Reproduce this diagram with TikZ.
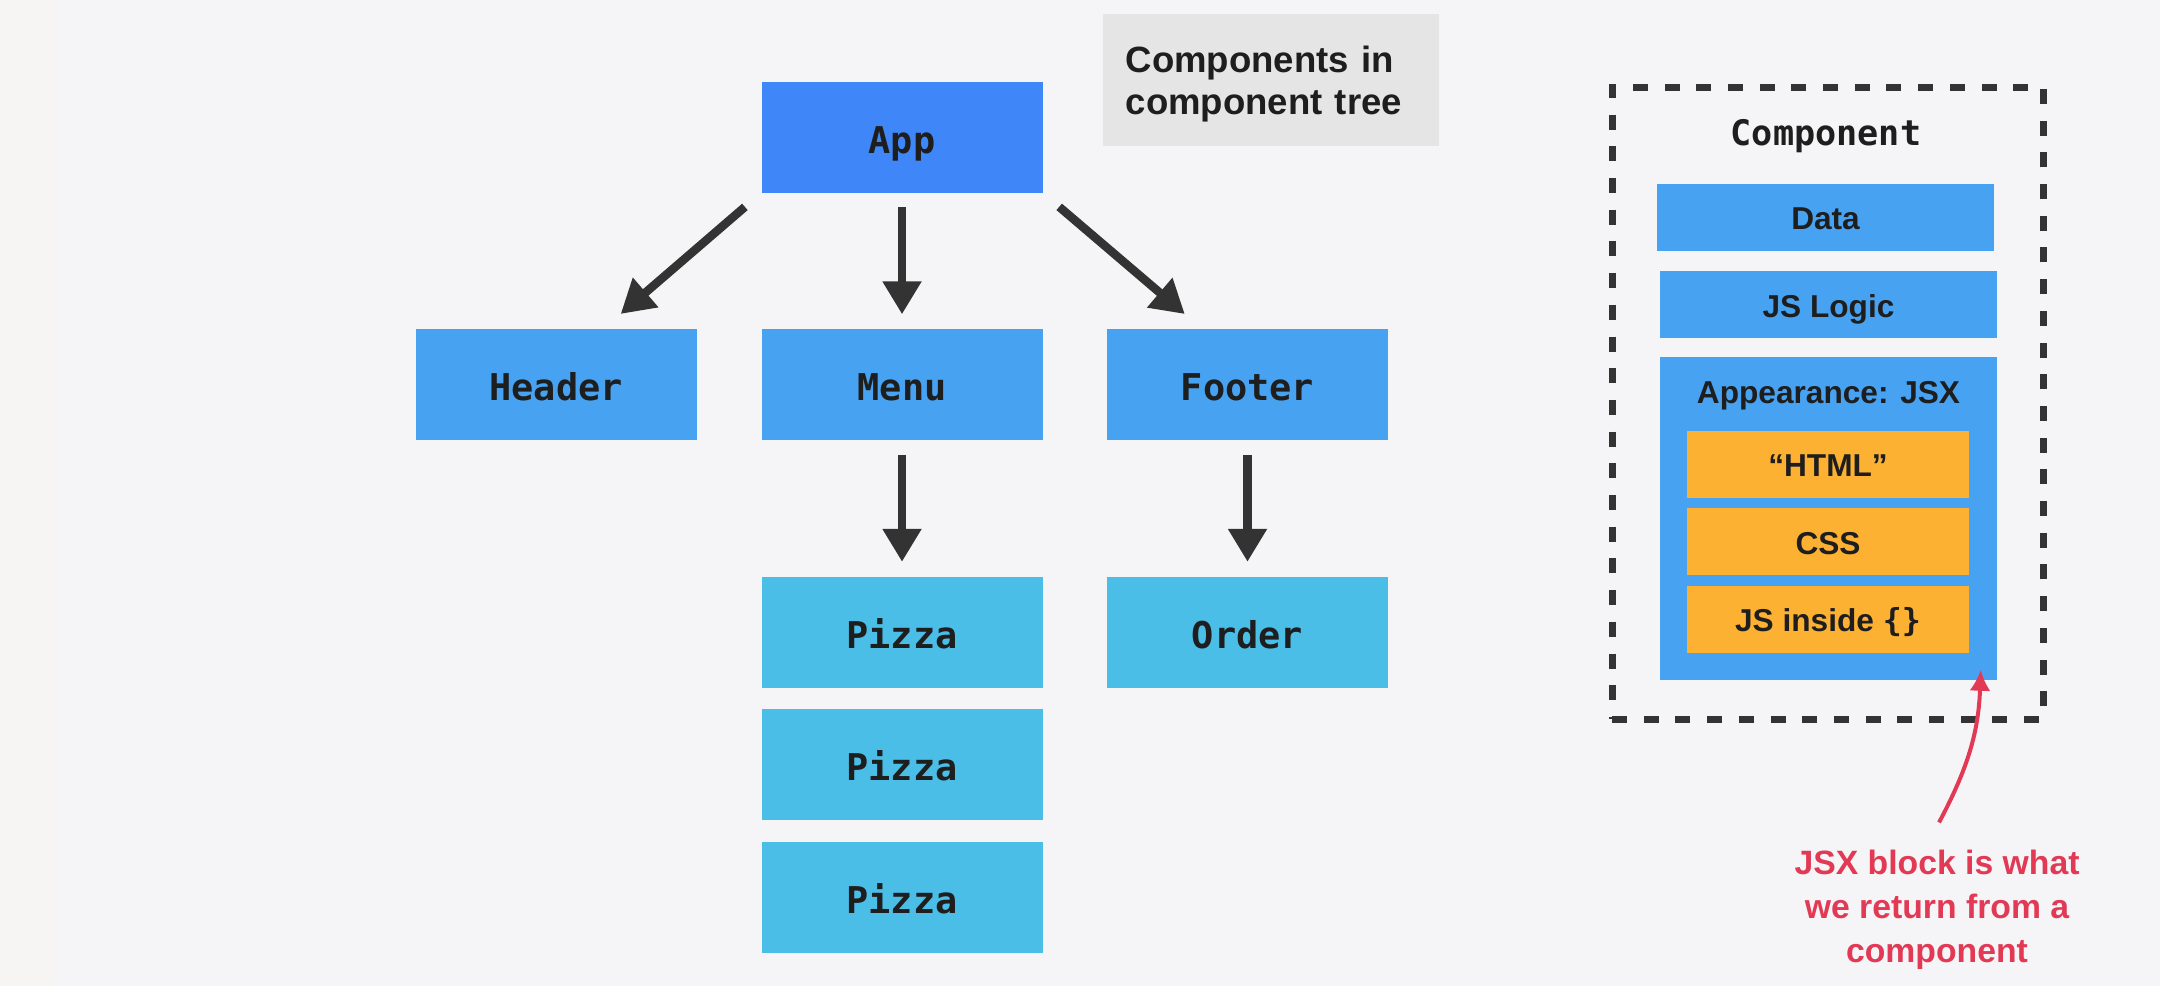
\documentclass[tikz,border=0pt]{standalone}
\usepackage{fontspec}
\setmainfont{Liberation Sans}
\setmonofont{DejaVu Sans Mono}
\usetikzlibrary{arrows.meta}
\definecolor{bgcol}{HTML}{F5F5F7}
\definecolor{stripcol}{HTML}{F6F5F3}
\definecolor{appblue}{HTML}{3F87F8}
\definecolor{midblue}{HTML}{47A3F2}
\definecolor{lightblue}{HTML}{4BBEE8}
\definecolor{jsxorange}{HTML}{FDB133}
\definecolor{notered}{HTML}{E23A55}
\definecolor{darkgray}{HTML}{333333}
\definecolor{notegray}{HTML}{E5E5E5}
\definecolor{textcol}{HTML}{1E1E1E}
\begin{document}
\begin{tikzpicture}[
	comp/.style={minimum width=2.81cm, minimum height=1.11cm, inner sep=0pt, text=textcol, text height=9.3pt, text depth=0pt, font=\ttfamily\bfseries\fontsize{10.5}{12.6}\selectfont},
	part/.style={minimum width=3.37cm, minimum height=0.67cm, inner sep=0pt, fill=midblue, text=textcol, text height=7.2pt, text depth=0pt, font=\bfseries\fontsize{9}{11}\selectfont},
	jsxpart/.style={part, minimum width=2.82cm, fill=jsxorange},
	treearrow/.style={-{Triangle[length=3.3mm,width=3.7mm]}, line width=0.85mm, darkgray, shorten >=1.4mm, shorten <=1.4mm}
	]
	% nền
	\fill[bgcol] (0,0) rectangle (21.6,-9.86);
	\fill[stripcol] (0,0) rectangle (0.53,-9.86);
	\useasboundingbox (0,0) rectangle (21.6,-9.86);
	
	% cây component
	\node (app) [comp, fill=appblue] at (9.02,-1.37) {App};
	\node (header) [comp, fill=midblue] at (5.56,-3.845) {Header};
	\node (menu) [comp, fill=midblue] at (9.02,-3.845) {Menu};
	\node (footer) [comp, fill=midblue] at (12.475,-3.845) {Footer};
	\node (pizzaa) [comp, fill=lightblue] at (9.02,-6.32) {Pizza};
	\node (pizzab) [comp, fill=lightblue] at (9.02,-7.645) {Pizza};
	\node (pizzac) [comp, fill=lightblue] at (9.02,-8.975) {Pizza};
	\node (order) [comp, fill=lightblue] at (12.475,-6.32) {Order};
	\draw[treearrow, shorten <=2.1mm, shorten >=2.2mm] (app.south west) -- ([xshift=4.8mm]header.north);
	\draw[treearrow] (app.south) -- (menu.north);
	\draw[treearrow, shorten <=2.1mm, shorten >=2.2mm] (app.south east) -- ([xshift=-4.6mm]footer.north);
	\draw[treearrow] (menu.south) -- (pizzaa.north);
	\draw[treearrow] (footer.south) -- (order.north);
	
	\node (treenote) [anchor=north west, fill=notegray, minimum width=3.36cm, minimum height=1.32cm, text width=2.9cm, inner xsep=0.23cm, align=left, text=textcol, font=\bfseries\fontsize{10.4}{12}\selectfont] at (11.02,-0.13) {\rule{0pt}{10pt}Components in\\component tree};
	
	% một component
	\node (frame) [draw=darkgray, line width=0.7mm, dash pattern=on 1.5mm off 1.67mm, minimum width=4.31cm, minimum height=6.32cm] at (18.275,-4.03) {};
	\node (comptitle) [text=textcol, font=\ttfamily\bfseries\fontsize{10}{12}\selectfont] at (18.26,-1.36) {Component};
	\node (data) [part] at (18.255,-2.17) {Data};
	\node (logic) [part] at (18.285,-3.045) {JS Logic};
	\node (appear) [part, minimum height=3.23cm] at (18.285,-5.185) {};
	\node (appeartitle) [text=textcol, font=\bfseries\fontsize{9}{11}\selectfont] at (18.285,-3.96) {Appearance: JSX};
	\node (html) [jsxpart] at (18.28,-4.64) {“HTML”};
	\node (css) [jsxpart] at (18.28,-5.415) {CSS};
	\node (jsinside) [jsxpart] at (18.28,-6.19) {JS inside {\ttfamily\{\}}};
	
	\node (note) [text=notered, align=center, font=\bfseries\fontsize{9.6}{12.5}\selectfont] at (19.37,-9.095) {JSX block is what\\we return from a\\component};
	\coordinate (notetop) at ([xshift=0.2mm,yshift=1.5mm]note.north);
	\coordinate (appeartip) at ([xshift=-1.7mm,yshift=1.1mm]appear.south east);
	\draw[notered, line width=0.4mm, -{Latex[length=2.1mm,width=2.1mm]}] (notetop) to[out=62,in=-92] (appeartip);
\end{tikzpicture}
\end{document}
